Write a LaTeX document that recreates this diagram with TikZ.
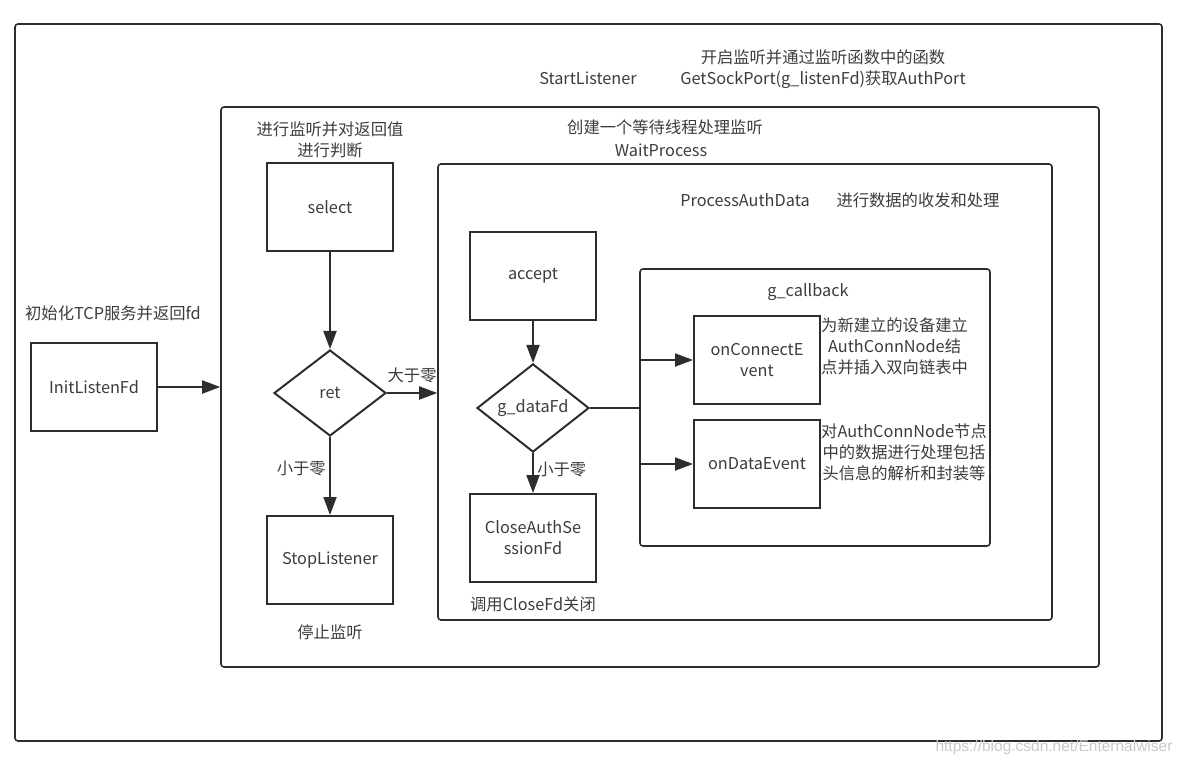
\documentclass[tikz,border=0pt]{standalone}
\usepackage{fontspec}
\setmainfont{Noto Sans CJK SC}
\newfontfamily\wmfont{Liberation Sans}
\usetikzlibrary{arrows.meta,shapes.geometric,positioning}
\definecolor{linegray}{RGB}{45,45,45}
\definecolor{textgray}{RGB}{60,60,60}
\definecolor{wmgray}{RGB}{200,200,200}

\begin{document}
\begin{tikzpicture}[x=1pt,y=-1pt,
  every node/.style={font=\fontsize{16.3}{21}\selectfont, text=textgray},
  frame/.style={draw=linegray, line width=1.6pt, rounded corners=3pt, inner sep=0pt},
  proc/.style={draw=linegray, line width=2pt, minimum width=126pt, minimum height=88pt, align=center, inner sep=0pt},
  decide/.style={draw=linegray, line width=2pt, diamond, minimum width=112pt, minimum height=86pt, inner sep=0pt},
  arr/.style={draw=linegray, line width=2pt, -{Triangle[length=18pt,width=13pt]}},
  link/.style={draw=linegray, line width=2pt}]
\useasboundingbox (0,0) rectangle (1178,765);

% Frames
\node[frame, minimum width=1147pt, minimum height=717pt] (outerbox) at (588.5,382.5) {};
\node[frame, minimum width=878pt, minimum height=560pt] (startbox) at (660,387) {};
\node[frame, minimum width=614pt, minimum height=456pt] (waitbox) at (745,392) {};
\node[frame, minimum width=350pt, minimum height=277pt] (cbbox) at (815,407.5) {};

% Frame titles
\node (startname) at (588,78) {StartListener};
\node[align=center] (startnote) at (823,69) {开启监听并通过监听函数中的函数\\GetSockPort(g\_listenFd)获取AuthPort};
\node (waitnote) at (665,127) {创建一个等待线程处理监听};
\node (waitname) at (661,150) {WaitProcess};
\node (procname) at (745,200) {ProcessAuthData};
\node (procnote) at (918,200) {进行数据的收发和处理};
\node (cbname) at (808,292) {g\_callback};

% Init
\node (initnote) at (113,313) {初始化TCP服务并返回fd};
\node[proc] (init) at (94,387) {InitListenFd};
\draw[arr] (init.east) -- (init.east -| startbox.west);

% Listener loop
\node[align=center] (selnote) at (330,140) {进行监听并对返回值\\进行判断};
\node[proc] (sel) at (330,207) {select};
\node[decide] (ret) at (330,393) {ret};
\node[proc] (stop) at (330,560) {StopListener};
\node (stopnote) at (330,632) {停止监听};
\draw[arr] (sel) -- (ret);
\draw[arr] (ret) -- node[pos=0.4, left] {小于零} (stop);
\draw[arr] (ret.east) -- node[midway, above=6pt] {大于零} (ret.east -| waitbox.west);

% Data handling
\node[proc] (acc) at (533,276) {accept};
\node[decide] (dfd) at (533,408) {g\_dataFd};
\node[proc] (closefd) at (533,538) {CloseAuthSe\\ssionFd};
\node (closenote) at (533,604) {调用CloseFd关闭};
\draw[arr] (acc) -- (dfd);
\draw[arr] (dfd) -- node[pos=0.4, right] {小于零} (closefd);

% Callbacks
\node[proc] (conn) at (757,360) {onConnectE\\vent};
\node[proc] (data) at (757,464) {onDataEvent};
\node[align=center, anchor=west, inner sep=0pt] (connnote) at (821,346) {为新建立的设备建立\\AuthConnNode结\\点并插入双向链表中};
\node[align=center, anchor=west, inner sep=0pt] (datanote) at (821,452) {对AuthConnNode节点\\中的数据进行处理包括\\头信息的解析和封装等};
\draw[link] (dfd.east) -- (dfd.east -| cbbox.west);
\draw[arr] (conn.west -| cbbox.west) -- (conn.west);
\draw[arr] (data.west -| cbbox.west) -- (data.west);

% Watermark
\node[anchor=east, text=wmgray, font=\wmfont\fontsize{15.5}{17}\selectfont] (wm) at (1176,747) {https://blog.csdn.net/Enternalwiser};
\end{tikzpicture}
\end{document}
